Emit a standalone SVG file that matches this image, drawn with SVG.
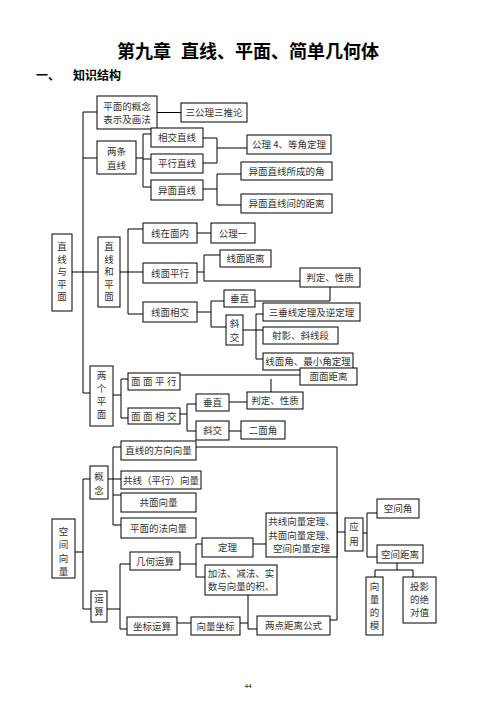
<svg xmlns="http://www.w3.org/2000/svg" width="496" height="702" viewBox="0 0 496 702">
<style>
.b{fill:#fff;stroke:#000;stroke-width:1}
.t{font-family:"Noto Sans CJK SC","Liberation Serif",serif;font-size:9.5px;fill:#333;text-anchor:middle}
.s{letter-spacing:2.5px}
.c path{fill:none;stroke:#000;stroke-width:1}
.h{font-family:"Noto Sans CJK SC",sans-serif;font-weight:bold;fill:#000}
</style>
<rect width="496" height="702" fill="#fff"/>
<text class="h" x="248" y="58" font-size="18" text-anchor="middle"><tspan>第九章</tspan><tspan dx="10">直线、平面、简单几何体</tspan></text>
<text class="h" x="36" y="80" font-size="12">一、</text>
<text class="h" x="73" y="80" font-size="12">知识结构</text>

<g class="c" id="connectors">
<path d="M83,112 V393 M83,112 H97 M157,112.5 H181 M83,158 H97"/>
<path d="M136,158 H143 M143,134 V187 M143,134 H151 M143,159 H151 M143,187 H151"/>
<path d="M203,138 H217 V163 H203 M217,148 H247"/>
<path d="M203,189 H217 M217,174 V205 M217,174 H241 M217,205 H241"/>
<path d="M72,272 H98 M120,272 H128 M128,229 V314 M128,229 H143 M128,272 H143 M128,314 H143"/>
<path d="M197,233 H211"/>
<path d="M197,272 H204 M204,255 V281 M204,255 H220 M204,281 H300"/>
<path d="M197,312 H211 M211,301 V327 M211,301 H224 M211,327 H226"/>
<path d="M255,301 H330 V287"/>
<path d="M243,330 H263 M256,314 V359 M256,314 H263 M256,359 H263"/>
<path d="M83,393 H90 M113,395 H121 M121,379 V418 M121,379 H128 M121,418 H128"/>
<path d="M180,375 H300 M271,379 V392"/>
<path d="M180,414 H187 M187,404 V431 M187,404 H196 M187,431 H196 M229,402 H247 M229,431 H241"/>
<path d="M196,447 H337 V620 H330"/>
<path d="M113,447 V525 M113,447 H121 M108,479 H121 M113,495 H121 M113,525 H121"/>
<path d="M83,479 V609 M83,479 H90 M83,609 H91 M75,552 H83"/>
<path d="M107,609 H120 M120,564 V629 M120,564 H130 M120,629 H127"/>
<path d="M180,564 H196 M196,544 V577 M196,544 H202 M196,577 H205 M253,544 H266"/>
<path d="M177,623 H191 M240,623 H248 M248,595 V629 H257"/>
<path d="M337,532 H345 M363,533 H367 M367,513 V557 M367,513 H377 M367,557 H377"/>
<path d="M397,563 V570 M375,570 H413 M375,570 V577 M413,570 V577"/>
</g>

<g id="n1"><rect class="b" x="97" y="96" width="60" height="33"/><text class="t" x="127" y="109.5">平面的概念</text><text class="t" x="127" y="122.8">表示及画法</text></g>
<g id="n2"><rect class="b" x="181" y="103" width="66" height="19"/><text class="t" x="214" y="116">三公理三推论</text></g>
<g id="n3"><rect class="b" x="97" y="141" width="39" height="33"/><text class="t" x="116.5" y="154.5">两条</text><text class="t" x="116.5" y="168.5">直线</text></g>
<g id="n4"><rect class="b" x="151" y="128" width="52" height="19"/><text class="t" x="177" y="141">相交直线</text></g>
<g id="n5"><rect class="b" x="151" y="154" width="52" height="19"/><text class="t" x="177" y="167">平行直线</text></g>
<g id="n6"><rect class="b" x="151" y="180" width="52" height="20"/><text class="t" x="177" y="193.5">异面直线</text></g>
<g id="n7"><rect class="b" x="247" y="135" width="84" height="19"/><text class="t" x="289" y="148">公理 4、等角定理</text></g>
<g id="n8"><rect class="b" x="241" y="162" width="91" height="18"/><text class="t" x="286.5" y="174.5">异面直线所成的角</text></g>
<g id="n9"><rect class="b" x="241" y="194" width="91" height="19"/><text class="t" x="286.5" y="207">异面直线间的距离</text></g>

<g id="n10"><rect class="b" x="52" y="234" width="20" height="77"/><text class="t" x="62" y="250.2">直</text><text class="t" x="62" y="262.7">线</text><text class="t" x="62" y="275.2">与</text><text class="t" x="62" y="287.7">平</text><text class="t" x="62" y="300.2">面</text></g>
<g id="n11"><rect class="b" x="98" y="237" width="22" height="70"/><text class="t" x="109" y="250.2">直</text><text class="t" x="109" y="262.7">线</text><text class="t" x="109" y="275.2">和</text><text class="t" x="109" y="287.7">平</text><text class="t" x="109" y="300.2">面</text></g>
<g id="n12"><rect class="b" x="143" y="223" width="54" height="20"/><text class="t" x="170" y="236.5">线在面内</text></g>
<g id="n13"><rect class="b" x="211" y="223" width="44" height="20"/><text class="t" x="233" y="236.5">公理一</text></g>
<g id="n14"><rect class="b" x="143" y="263" width="54" height="20"/><text class="t" x="170" y="276.5">线面平行</text></g>
<g id="n15"><rect class="b" x="220" y="250" width="51" height="17"/><text class="t" x="245.5" y="262">线面距离</text></g>
<g id="n16"><rect class="b" x="300" y="268" width="60" height="19"/><text class="t" x="330" y="281">判定、性质</text></g>
<g id="n17"><rect class="b" x="143" y="302" width="54" height="20"/><text class="t" x="170" y="315.5">线面相交</text></g>
<g id="n18"><rect class="b" x="224" y="290" width="31" height="17"/><text class="t" x="239.5" y="302">垂直</text></g>
<g id="n19"><rect class="b" x="226" y="315" width="17" height="30"/><text class="t" x="234.5" y="326.8">斜</text><text class="t" x="234.5" y="340.8">交</text></g>
<g id="n20"><rect class="b" x="263" y="303" width="97" height="18"/><text class="t" x="311.5" y="315.5">三垂线定理及逆定理</text></g>
<g id="n21"><rect class="b" x="263" y="327" width="75" height="17"/><text class="t" x="300.5" y="339">射影、斜线段</text></g>
<g id="n22"><rect class="b" x="263" y="353" width="90" height="17"/><text class="t" x="308" y="365">线面角、最小角定理</text></g>
<g id="n23"><rect class="b" x="300" y="368" width="57" height="17"/><text class="t" x="328.5" y="380">面面距离</text></g>

<g id="n24"><rect class="b" x="90" y="366" width="23" height="60"/><text class="t" x="101.5" y="378.5">两</text><text class="t" x="101.5" y="391.8">个</text><text class="t" x="101.5" y="405.1">平</text><text class="t" x="101.5" y="418.4">面</text></g>
<g id="n25"><rect class="b" x="128" y="373" width="52" height="17"/><text class="t s" x="155" y="385">面面平行</text></g>
<g id="n26"><rect class="b" x="128" y="408" width="52" height="16"/><text class="t s" x="155" y="419.5">面面相交</text></g>
<g id="n27"><rect class="b" x="196" y="394" width="33" height="17"/><text class="t" x="212.5" y="406">垂直</text></g>
<g id="n28"><rect class="b" x="247" y="392" width="56" height="17"/><text class="t" x="275" y="404">判定、性质</text></g>
<g id="n29"><rect class="b" x="196" y="421" width="33" height="19"/><text class="t" x="212.5" y="434">斜交</text></g>
<g id="n30"><rect class="b" x="241" y="421" width="44" height="18"/><text class="t" x="263" y="433.5">二面角</text></g>

<g id="n31"><rect class="b" x="121" y="441" width="75" height="19"/><text class="t" x="158.5" y="454">直线的方向向量</text></g>
<g id="n32"><rect class="b" x="90" y="466" width="18" height="33"/><text class="t" x="99" y="480.2">概</text><text class="t" x="99" y="493.5">念</text></g>
<g id="n33"><rect class="b" x="121" y="471" width="80" height="18"/><text class="t" x="161" y="483.5">共线（平行）向量</text></g>
<g id="n34"><rect class="b" x="121" y="493" width="75" height="19"/><text class="t" x="158.5" y="506">共面向量</text></g>
<g id="n35"><rect class="b" x="121" y="518" width="75" height="20"/><text class="t" x="158.5" y="531.5">平面的法向量</text></g>
<g id="n36"><rect class="b" x="52" y="519" width="23" height="59"/><text class="t" x="63.5" y="534.5">空</text><text class="t" x="63.5" y="548">间</text><text class="t" x="63.5" y="561.5">向</text><text class="t" x="63.5" y="575">量</text></g>
<g id="n37"><rect class="b" x="130" y="552" width="50" height="18"/><text class="t" x="155" y="564.5">几何运算</text></g>
<g id="n38"><rect class="b" x="91" y="591" width="16" height="31"/><text class="t" x="99" y="601.8">运</text><text class="t" x="99" y="615.2">算</text></g>
<g id="n39"><rect class="b" x="202" y="538" width="51" height="19"/><text class="t" x="227.5" y="551">定理</text></g>
<g id="n40"><rect class="b" x="205" y="565" width="72" height="30"/><text class="t" x="241" y="576.8">加法、减法、实</text><text class="t" x="241" y="590.2">数与向量的积、</text></g>
<g id="n41"><rect class="b" x="266" y="513" width="71" height="44"/><text class="t" x="301.5" y="525.2">共线向量定理、</text><text class="t" x="301.5" y="538.5">共面向量定理、</text><text class="t" x="301.5" y="551.8">空间向量定理</text></g>
<g id="n42"><rect class="b" x="127" y="617" width="50" height="18"/><text class="t" x="152" y="629.5">坐标运算</text></g>
<g id="n43"><rect class="b" x="191" y="617" width="49" height="18"/><text class="t" x="215.5" y="629.5">向量坐标</text></g>
<g id="n44"><rect class="b" x="257" y="616" width="73" height="19"/><text class="t" x="293.5" y="629">两点距离公式</text></g>
<g id="n45"><rect class="b" x="345" y="518" width="18" height="33"/><text class="t" x="354" y="530.2">应</text><text class="t" x="354" y="545.2">用</text></g>
<g id="n46"><rect class="b" x="377" y="499" width="42" height="19"/><text class="t" x="398" y="512">空间角</text></g>
<g id="n47"><rect class="b" x="377" y="545" width="46" height="18"/><text class="t" x="400" y="557.5">空间距离</text></g>
<g id="n48"><rect class="b" x="366" y="577" width="17" height="58"/><text class="t" x="374.5" y="590.2">向</text><text class="t" x="374.5" y="603.2">量</text><text class="t" x="374.5" y="616.2">的</text><text class="t" x="374.5" y="629.2">模</text></g>
<g id="n49"><rect class="b" x="403" y="577" width="33" height="46"/><text class="t" x="419.5" y="590.2">投影</text><text class="t" x="419.5" y="603.2">的绝</text><text class="t" x="419.5" y="616.2">对值</text></g>

<text x="248" y="688" font-family="Liberation Serif,serif" font-size="7" text-anchor="middle" fill="#000">44</text>
</svg>
